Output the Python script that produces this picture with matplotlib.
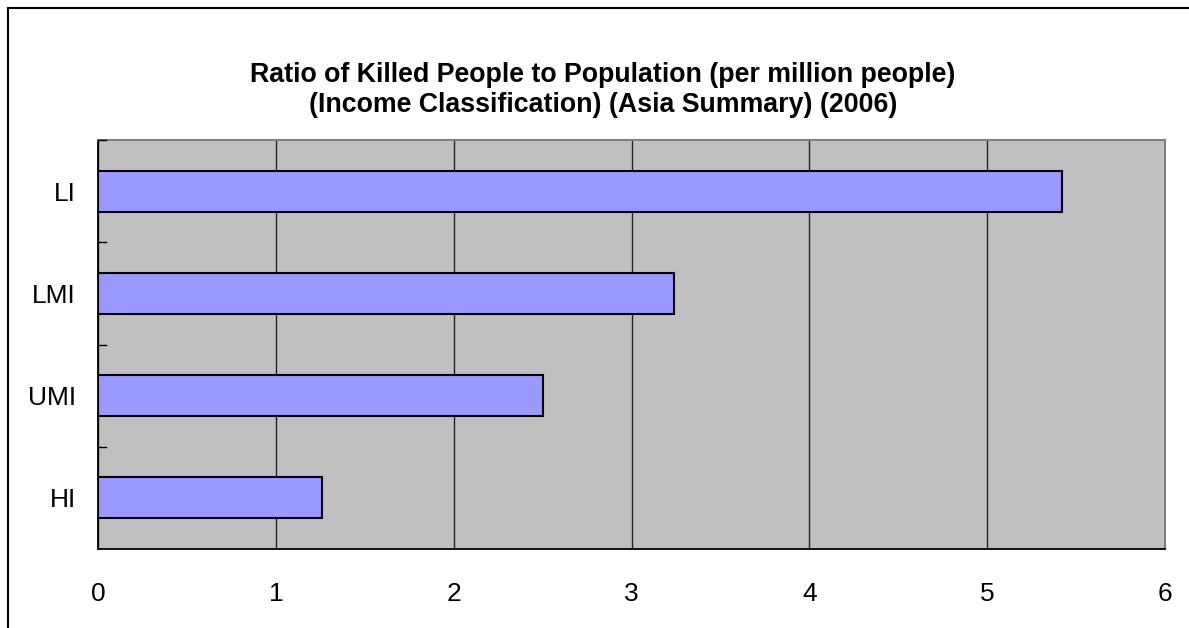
import matplotlib.pyplot as plt
from matplotlib.patches import Rectangle

categories = ["LI", "LMI", "UMI", "HI"]
values = [5.42, 3.24, 2.50, 1.26]
xticks = [0, 1, 2, 3, 4, 5, 6]

plt.rcParams['font.family'] = ['Liberation Sans', 'DejaVu Sans']

fig = plt.figure(figsize=(11.89, 6.28), dpi=100)
ax = fig.add_axes([98/1189, 79/628, 1067/1189, 409/628])

# outer chart frame (only left and top edges fall inside the image)
fig.patches.append(Rectangle((7.5/1189, -0.1), 1.2, (628-7.5)/628 + 0.1,
                             transform=fig.transFigure, fill=False,
                             edgecolor="black", linewidth=1.5))

ypos = list(range(len(categories)))
ax.barh(ypos, values, height=0.4, color="#9999FF", edgecolor="black",
        linewidth=1.5, zorder=3)

ax.set_facecolor("#C0C0C0")
ax.set_xlim(0, 6)
ax.set_ylim(3.5, -0.5)
ax.set_xticks(xticks)
ax.set_xticklabels([str(t) for t in xticks], fontsize=19)
ax.set_yticks(ypos)
ax.set_yticklabels(categories, fontsize=19)
ax.tick_params(axis="y", length=0, pad=16)
ax.tick_params(axis="x", length=0, pad=24)

# inside ticks at category boundaries
for b in [-0.5, 0.5, 1.5, 2.5]:
    ax.plot([0, 0.045], [b, b], color="black", lw=1, zorder=4, clip_on=False)
ax.grid(axis="x", color="#222222", linewidth=1, zorder=1)

for side in ["left", "bottom"]:
    ax.spines[side].set_color("black")
    ax.spines[side].set_linewidth(1.3)
for side in ["top", "right"]:
    ax.spines[side].set_color("#808080")
    ax.spines[side].set_linewidth(1.5)

fig.text(603/1189, 1 - 75/628, "Ratio of Killed People to Population (per million people)",
         ha="center", va="center", fontsize=19.3, fontweight="bold")
fig.text(603/1189, 1 - 105/628, "(Income Classification) (Asia Summary) (2006)",
         ha="center", va="center", fontsize=19.3, fontweight="bold")

fig.savefig("out.png", dpi=100)
